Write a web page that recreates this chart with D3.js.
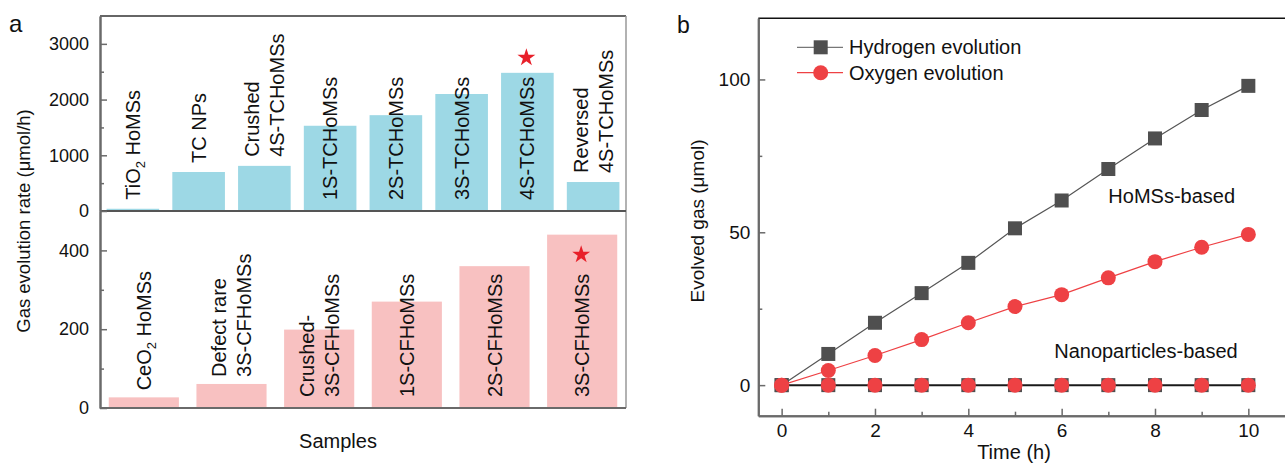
<!DOCTYPE html>
<html>
<head>
<meta charset="utf-8">
<script src="https://cdn.jsdelivr.net/npm/d3@7"></script>
<style>
	body { margin: 0; background: #fff; }
	svg { display: block; font-family: "Liberation Sans", Arial, sans-serif; }
</style>
</head>
<body>
<svg id="chart" width="1285" height="465"></svg>
<script>
// Panel a, top: TiO2 based samples (µmol/h)
const topLabels = [["TiO_2 HoMSs"], ["TC NPs"], ["Crushed", "4S-TCHoMSs"], ["1S-TCHoMSs"],
	["2S-TCHoMSs"], ["3S-TCHoMSs"], ["4S-TCHoMSs"], ["Reversed", "4S-TCHoMSs"]];
const topValues = [40, 700, 810, 1530, 1720, 2100, 2480, 520];
const topStar = 6;

// Panel a, bottom: CeO2 based samples
const bottomLabels = [["CeO_2 HoMSs"], ["Defect rare", "3S-CFHoMSs"], ["Crushed-", "3S-CFHoMSs"],
	["1S-CFHoMSs"], ["2S-CFHoMSs"], ["3S-CFHoMSs"]];
const bottomValues = [27, 61, 199, 270, 360, 440];
const bottomStar = 5;

const topMajor = [0, 1000, 2000, 3000];
const topMinor = [500, 1500, 2500];
const bottomMajor = [0, 200, 400];
const bottomMinor = [100, 300];

// Panel b: evolved gas vs time
const hours = [0, 1, 2, 3, 4, 5, 6, 7, 8, 9, 10];
const hydrogenHoMS = [0, 10.2, 20.4, 30.1, 40, 51.3, 60.4, 70.7, 80.7, 90, 97.9];
const oxygenHoMS = [0, 4.8, 9.7, 14.9, 20.4, 25.7, 29.6, 35.1, 40.4, 45.1, 49.3];
const hydrogenNP = [0, 0, 0, 0, 0, 0, 0, 0, 0, 0, 0];
const oxygenNP = [0, 0, 0, 0, 0, 0, 0, 0, 0, 0, 0];

const timeMajor = [0, 2, 4, 6, 8, 10];
const timeMinor = [1, 3, 5, 7, 9];
const gasMajor = [0, 50, 100];
const gasMinor = [25, 75];

const BLUE = "#9dd8e5";
const PINK = "#f8c1c1";
const STAR = "#e8202a";
const GREY = "#4f4f4f";
const RED = "#ee4144";
const AXIS = "#6a6a6a";

const svg = d3.select("#chart");

function styleAxis(g) {
	g.select(".domain").attr("stroke", AXIS).attr("stroke-width", 2);
	g.selectAll(".tick line").attr("stroke", AXIS).attr("stroke-width", 1.5);
	g.selectAll(".tick text").attr("fill", "#111").style("font-size", "18px")
		.style("font-family", "'Liberation Sans', Arial, sans-serif");
}

// write a label line, turning "_2" into a subscript
function writeLine(text, str) {
	const parts = str.split(/_(\d)/);
	parts.forEach((p, i) => {
		if (i % 2 === 0) {
			text.append("tspan").attr("dy", i === 0 ? 0 : -5).text(p);
		} else {
			text.append("tspan").attr("dy", 5).style("font-size", "13px").text(p);
		}
	});
}

function drawBars(labels, values, y, color, starIndex, gap, insideStart) {
	const x = d3.scaleBand()
		.domain(d3.range(labels.length))
		.range([100, 626])
		.paddingInner(0.2)
		.paddingOuter(0.1);

	svg.append("g").selectAll("rect")
		.data(values)
		.join("rect")
		.attr("x", (d, i) => x(i))
		.attr("y", d => y(d))
		.attr("width", x.bandwidth())
		.attr("height", d => y(0) - y(d))
		.attr("fill", color);

	labels.forEach((lines, i) => {
		const cx = x(i) + x.bandwidth() / 2;
		// tall bars hold the label inside, short ones get it just above
		const tall = y(0) - y(values[i]) > 60;
		const start = tall ? insideStart : Math.min(insideStart, y(values[i]) - gap);
		const g = svg.append("g").attr("transform", `translate(${cx},${start}) rotate(-90)`);
		let maxLen = 0;
		lines.forEach((line, j) => {
			const t = g.append("text")
				.attr("x", 0)
				.attr("y", (j - (lines.length - 1) / 2) * 25 + 7)
				.style("font-size", "20px")
				.attr("fill", "#111");
			writeLine(t, line);
			maxLen = Math.max(maxLen, t.node().getComputedTextLength());
		});
		if (i === starIndex) {
			svg.append("path")
				.attr("d", d3.symbol(d3.symbolStar, 100)())
				.attr("transform", `translate(${cx - 1},${start - maxLen - 19})`)
				.attr("fill", STAR);
		}
	});
}

// ---------- panel a ----------
const yTop = d3.scaleLinear().domain([0, 3500]).range([211, 16]);
const yBottom = d3.scaleLinear().domain([0, 500]).range([408, 211]);

drawBars(topLabels, topValues, yTop, BLUE, topStar, 9, 200);
drawBars(bottomLabels, bottomValues, yBottom, PINK, bottomStar, 7, 397);

// frame
svg.append("line").attr("x1", 100).attr("x2", 626).attr("y1", 16).attr("y2", 16)
	.attr("stroke", "#333").attr("stroke-width", 1.5);
svg.append("line").attr("x1", 626).attr("x2", 626).attr("y1", 16).attr("y2", 408)
	.attr("stroke", "#999").attr("stroke-width", 1.5);
svg.append("line").attr("x1", 100).attr("x2", 626).attr("y1", 211).attr("y2", 211)
	.attr("stroke", "#555").attr("stroke-width", 2);
svg.append("line").attr("x1", 100).attr("x2", 626).attr("y1", 408).attr("y2", 408)
	.attr("stroke", AXIS).attr("stroke-width", 2);

const fmt = d => String(d);

svg.append("g").attr("transform", "translate(100,0)")
	.call(d3.axisLeft(yTop).tickValues(topMajor).tickFormat(fmt).tickSizeInner(-7).tickSizeOuter(0).tickPadding(11))
	.call(styleAxis);
svg.append("g").attr("transform", "translate(100,0)")
	.call(d3.axisLeft(yTop).tickValues(topMinor).tickSizeInner(-4).tickSizeOuter(0).tickFormat(""))
	.call(styleAxis);
svg.append("g").attr("transform", "translate(100,0)")
	.call(d3.axisLeft(yBottom).tickValues(bottomMajor).tickFormat(fmt).tickSizeInner(-7).tickSizeOuter(0).tickPadding(11))
	.call(styleAxis);
svg.append("g").attr("transform", "translate(100,0)")
	.call(d3.axisLeft(yBottom).tickValues(bottomMinor).tickSizeInner(-4).tickSizeOuter(0).tickFormat(""))
	.call(styleAxis);

svg.append("text")
	.attr("transform", "translate(30,221) rotate(-90)")
	.attr("text-anchor", "middle")
	.style("font-size", "18.5px")
	.attr("fill", "#111")
	.text("Gas evolution rate (\u03bcmol/h)");

svg.append("text")
	.attr("x", 338).attr("y", 448)
	.attr("text-anchor", "middle")
	.style("font-size", "20px")
	.attr("fill", "#111")
	.text("Samples");

svg.append("text").attr("x", 9).attr("y", 32).style("font-size", "24px").attr("fill", "#111").text("a");
svg.append("text").attr("x", 677).attr("y", 33).style("font-size", "23px").attr("fill", "#111").text("b");

// ---------- panel b ----------
const xT = d3.scaleLinear().domain([-0.5, 11]).range([758.3, 758.3 + 11.5 * 46.67]);
const yG = d3.scaleLinear().domain([-10, 120]).range([415.7, 18.3]);

svg.append("line").attr("x1", 758.3).attr("x2", 1285).attr("y1", 18.3).attr("y2", 18.3)
	.attr("stroke", "#111").attr("stroke-width", 1.5);

svg.append("g").attr("transform", "translate(0,415.7)")
	.call(d3.axisBottom(xT).tickValues(timeMajor).tickFormat(fmt).tickSizeInner(-7).tickSizeOuter(0).tickPadding(8))
	.call(styleAxis)
	.call(g => g.selectAll(".tick text").style("font-size", "19px"));
svg.append("g").attr("transform", "translate(0,415.7)")
	.call(d3.axisBottom(xT).tickValues(timeMinor).tickSizeInner(-4).tickSizeOuter(0).tickFormat(""))
	.call(styleAxis);
svg.append("g").attr("transform", "translate(758.3,0)")
	.call(d3.axisLeft(yG).tickValues(gasMajor).tickFormat(fmt).tickSizeInner(-7).tickSizeOuter(0).tickPadding(8))
	.call(styleAxis)
	.call(g => g.selectAll(".tick text").style("font-size", "19px"));
svg.append("g").attr("transform", "translate(758.3,0)")
	.call(d3.axisLeft(yG).tickValues(gasMinor).tickSizeInner(-4).tickSizeOuter(0).tickFormat(""))
	.call(styleAxis);

const line = d3.line().x((d, i) => xT(hours[i])).y(d => yG(d));

function drawSeries(values, stroke, width, marker, fill) {
	if (width > 0) {
		svg.append("path").datum(values)
			.attr("d", line)
			.attr("fill", "none")
			.attr("stroke", stroke)
			.attr("stroke-width", width);
	}
	if (marker === "square") {
		svg.append("g").selectAll("rect").data(values).join("rect")
			.attr("x", (d, i) => xT(hours[i]) - 7)
			.attr("y", d => yG(d) - 7)
			.attr("width", 14).attr("height", 14)
			.attr("fill", fill);
	} else if (marker === "circle") {
		svg.append("g").selectAll("circle").data(values).join("circle")
			.attr("cx", (d, i) => xT(hours[i]))
			.attr("cy", d => yG(d))
			.attr("r", 7.5)
			.attr("fill", fill);
	}
}

drawSeries(hydrogenNP, "#1a1a1a", 2, "square", GREY);
drawSeries(hydrogenHoMS, "#555", 1.2, "square", GREY);
drawSeries(oxygenNP, RED, 0, "circle", RED);
drawSeries(oxygenHoMS, RED, 1.2, "circle", RED);

// legend
const legend = [
	{ name: "Hydrogen evolution", color: "#777", marker: "square", y: 47.3 },
	{ name: "Oxygen evolution", color: RED, marker: "circle", y: 72.7 },
];
legend.forEach(l => {
	svg.append("line").attr("x1", 797).attr("x2", 843).attr("y1", l.y).attr("y2", l.y)
		.attr("stroke", l.color).attr("stroke-width", 1.2);
	if (l.marker === "square") {
		svg.append("rect").attr("x", 820.7 - 7).attr("y", l.y - 7).attr("width", 14).attr("height", 14).attr("fill", GREY);
	} else {
		svg.append("circle").attr("cx", 820.7).attr("cy", l.y).attr("r", 7.5).attr("fill", RED);
	}
	svg.append("text").attr("x", 849).attr("y", l.y + 7)
		.style("font-size", "20px").attr("fill", "#111").text(l.name);
});

svg.append("text").attr("x", xT(7)).attr("y", yG(59.6))
	.style("font-size", "20px").attr("fill", "#111").text("HoMSs-based");
svg.append("text").attr("x", xT(5.84)).attr("y", yG(8.8))
	.style("font-size", "20px").attr("fill", "#111").text("Nanoparticles-based");

svg.append("text")
	.attr("transform", "translate(704,221) rotate(-90)")
	.attr("text-anchor", "middle")
	.style("font-size", "19px")
	.attr("fill", "#111")
	.text("Evolved gas (\u03bcmol)");

svg.append("text")
	.attr("x", 1014).attr("y", 459)
	.attr("text-anchor", "middle")
	.style("font-size", "20px")
	.attr("fill", "#111")
	.text("Time (h)");
</script>
</body>
</html>
